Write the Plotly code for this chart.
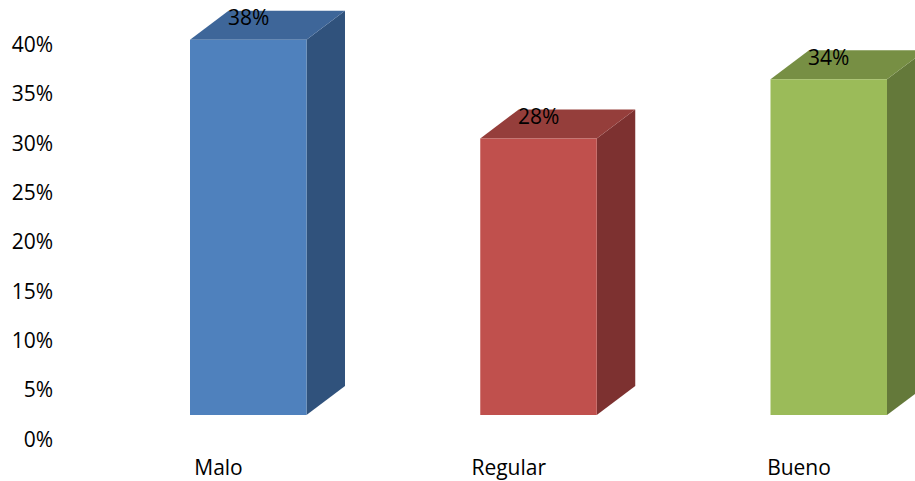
import plotly.graph_objects as go

# Survey result shares per rating category (percent)
categories = ["Malo", "Regular", "Bueno"]
values = [38, 28, 34]
y_ticks = [0, 5, 10, 15, 20, 25, 30, 35, 40]
y_tick_labels = [f"{v}%" for v in y_ticks]

# Face colours for each bar: front, top, side
front_colors = ["#4F81BD", "#C0504D", "#9BBB59"]
top_colors = ["#3E6699", "#953E3B", "#778F44"]
side_colors = ["#30527C", "#7D3130", "#64793A"]

W, H = 915, 481
ML, MR, MT, MB = 54, 0, 0, 28

# pixel geometry of the pseudo-3D layout
PX_PER_PCT = 9.875          # vertical scale
ZERO_PX = 439.5             # pixel row of 0%
CAT0_PX = 218.5             # pixel column of first category
CAT_STEP_PX = 290.25        # pixel distance between categories

y_top = (ZERO_PX - MT) / PX_PER_PCT
y_bot = (ZERO_PX - (H - MB)) / PX_PER_PCT
x_left = (ML - CAT0_PX) / CAT_STEP_PX
x_right = (W - MR - CAT0_PX) / CAT_STEP_PX

def dx(px):
    return px / CAT_STEP_PX

def dy(px):
    return px / PX_PER_PCT

front_l = dx(-28.5)
front_r = dx(88.0)
depth_x = dx(38.5)
depth_y = dy(29.0)
base = dy(ZERO_PX - 415.0)

fig = go.Figure()

for i, (cat, v) in enumerate(zip(categories, values)):
    x0, x1 = i + front_l, i + front_r
    y0, y1 = base, base + v
    # side face
    fig.add_trace(go.Scatter(
        x=[x1, x1 + depth_x, x1 + depth_x, x1, x1],
        y=[y0, y0 + depth_y, y1 + depth_y, y1, y0],
        fill="toself", fillcolor=side_colors[i], mode="lines",
        line=dict(width=0), hoverinfo="skip", showlegend=False))
    # top face
    fig.add_trace(go.Scatter(
        x=[x0, x1, x1 + depth_x, x0 + depth_x, x0],
        y=[y1, y1, y1 + depth_y, y1 + depth_y, y1],
        fill="toself", fillcolor=top_colors[i], mode="lines",
        line=dict(width=0), hoverinfo="skip", showlegend=False))
    # front face
    fig.add_trace(go.Scatter(
        x=[x0, x1, x1, x0, x0],
        y=[y0, y0, y1, y1, y0],
        fill="toself", fillcolor=front_colors[i], mode="lines",
        line=dict(width=0), hoverinfo="skip", showlegend=False))
    # value label on the top face
    fig.add_annotation(
        x=(x0 + x1) / 2, y=y1 + dy(22.5), text=f"{v}%",
        showarrow=False, font=dict(size=21, color="#000000"),
        xanchor="center", yanchor="middle")

fig.update_layout(
    width=W, height=H,
    margin=dict(l=ML, r=MR, t=MT, b=MB),
    paper_bgcolor="white", plot_bgcolor="white",
    font=dict(family="Open Sans", size=21, color="#000000"),
    xaxis=dict(range=[x_left, x_right], tickvals=list(range(len(categories))),
               ticktext=categories, showgrid=False, zeroline=False,
               showline=False, ticks="", fixedrange=True),
    yaxis=dict(range=[y_bot, y_top], tickvals=y_ticks, ticktext=y_tick_labels,
               showgrid=False, zeroline=False, showline=False, ticks="",
               fixedrange=True),
)

fig.write_html("out.html")
